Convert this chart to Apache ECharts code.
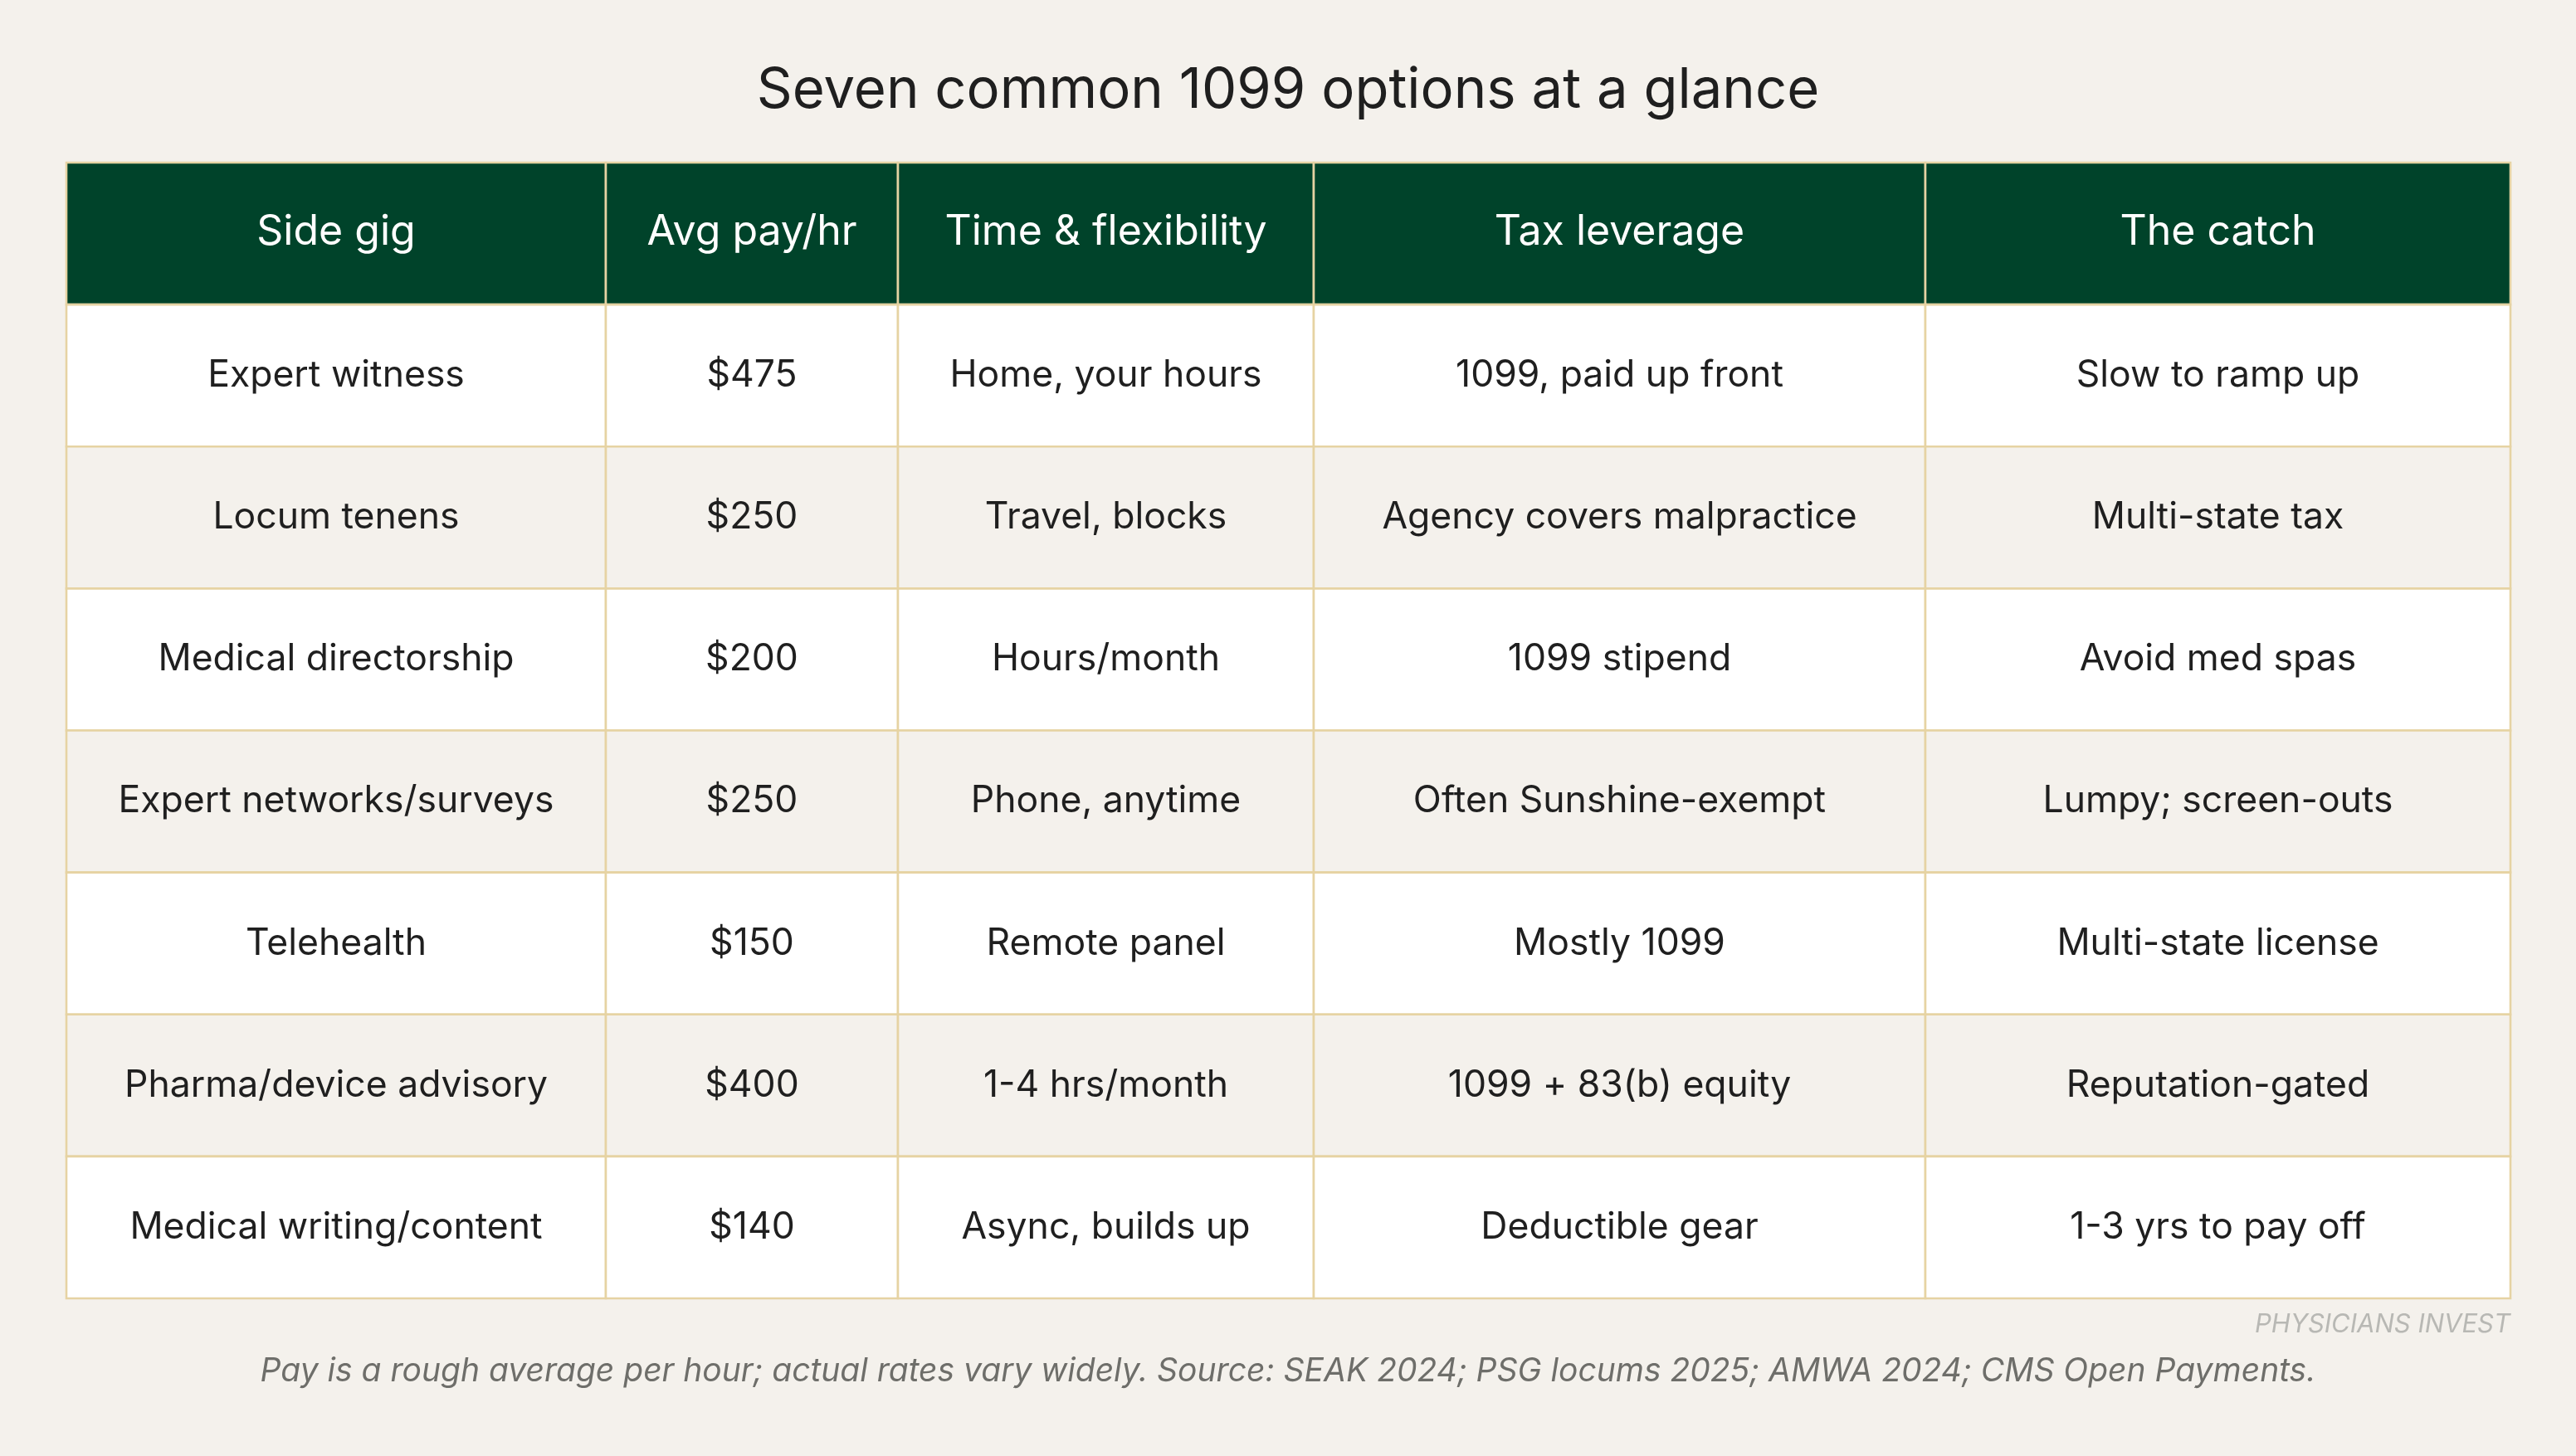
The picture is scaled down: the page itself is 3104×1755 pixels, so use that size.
<!DOCTYPE html>
<html>
<head>
<meta charset="utf-8">
<title>Seven common 1099 options at a glance</title>
<script src="https://cdn.jsdelivr.net/npm/echarts@6/dist/echarts.min.js"></script>
<style>
  html, body { margin: 0; padding: 0; background: #f4f1ec; }
  #chart { width: 3104px; height: 1755px; }
</style>
</head>
<body>
<div id="chart"></div>
<script>
// table content
var columns = ['Side gig', 'Avg pay/hr', 'Time & flexibility', 'Tax leverage', 'The catch'];
var gigs = ['Expert witness', 'Locum tenens', 'Medical directorship', 'Expert networks/surveys',
  'Telehealth', 'Pharma/device advisory', 'Medical writing/content'];
var payPerHour = [475, 250, 200, 250, 150, 400, 140];
var timeFlex = ['Home, your hours', 'Travel, blocks', 'Hours/month', 'Phone, anytime',
  'Remote panel', '1-4 hrs/month', 'Async, builds up'];
var taxLeverage = ['1099, paid up front', 'Agency covers malpractice', '1099 stipend',
  'Often Sunshine-exempt', 'Mostly 1099', '1099 + 83(b) equity', 'Deductible gear'];
var catches = ['Slow to ramp up', 'Multi-state tax', 'Avoid med spas', 'Lumpy; screen-outs',
  'Multi-state license', 'Reputation-gated', '1-3 yrs to pay off'];

// relative column widths (layout only)
var colWidths = [650, 352, 501, 737, 705];
var colStarts = [0];
colWidths.forEach(function (w, i) { colStarts.push(colStarts[i] + w); });

var FONT = 'Inter, "Noto Sans", sans-serif';
var BORDER = '#e6d3a3';

// build cells: [colStart, rowIndex, colEnd, text, colIndex]
var rowNames = ['header'].concat(gigs);
var cells = [];
columns.forEach(function (name, c) {
  cells.push([colStarts[c], 0, colStarts[c + 1], name, c]);
});
gigs.forEach(function (g, i) {
  var row = [g, '$' + payPerHour[i], timeFlex[i], taxLeverage[i], catches[i]];
  row.forEach(function (txt, c) {
    cells.push([colStarts[c], i + 1, colStarts[c + 1], txt, c]);
  });
});

function renderCell(params, api) {
  var r = api.value(1);
  var p0 = api.coord([api.value(0), r]);
  var p1 = api.coord([api.value(2), r]);
  var h = api.size([0, 1])[1];
  var isHead = r === 0;
  var fill = isHead ? '#00432a' : (r % 2 === 0 ? '#f4f1ec' : '#ffffff');
  return {
    type: 'group',
    children: [{
      type: 'rect',
      shape: { x: p0[0], y: p0[1] - h / 2, width: p1[0] - p0[0], height: h },
      style: { fill: fill, stroke: BORDER, lineWidth: 2.6 }
    }, {
      type: 'text',
      style: {
        x: (p0[0] + p1[0]) / 2,
        y: p0[1] - (isHead ? 2 : 0),
        text: cells[params.dataIndex][3],
        align: 'center',
        verticalAlign: 'middle',
        fill: isHead ? '#ffffff' : '#1f1f1f',
        font: (isHead ? '50px ' : '44.5px ') + FONT
      }
    }]
  };
}

var chart = echarts.init(document.getElementById('chart'));
chart.setOption({
  backgroundColor: '#f4f1ec',
  animation: false,
  title: [{
    text: 'Seven common 1099 options at a glance',
    left: 'center',
    top: 70,
    padding: 0,
    textStyle: { fontFamily: FONT, fontSize: 67, fontWeight: 400, color: '#1f1f1f', lineHeight: 80 }
  }, {
    text: 'PHYSICIANS INVEST',
    right: 79,
    top: 1578,
    padding: 0,
    textStyle: { fontFamily: FONT, fontSize: 31, fontStyle: 'italic', fontWeight: 400, color: '#b8b8b4', lineHeight: 37 }
  }, {
    text: 'Pay is a rough average per hour; actual rates vary widely. Source: SEAK 2024; PSG locums 2025; AMWA 2024; CMS Open Payments.',
    left: 'center',
    top: 1630,
    padding: 0,
    textStyle: { fontFamily: FONT, fontSize: 39, fontStyle: 'italic', fontWeight: 400, color: '#6e6e6a', lineHeight: 46 }
  }],
  grid: { left: 80, right: 79, top: 196, bottom: 190 },
  xAxis: {
    type: 'value', min: 0, max: colStarts[colStarts.length - 1],
    show: false, splitLine: { show: false }
  },
  yAxis: {
    type: 'category', data: rowNames, inverse: true, show: false
  },
  series: [{
    type: 'custom',
    renderItem: renderCell,
    encode: { x: [0, 2], y: 1 },
    data: cells
  }]
});
</script>
</body>
</html>
